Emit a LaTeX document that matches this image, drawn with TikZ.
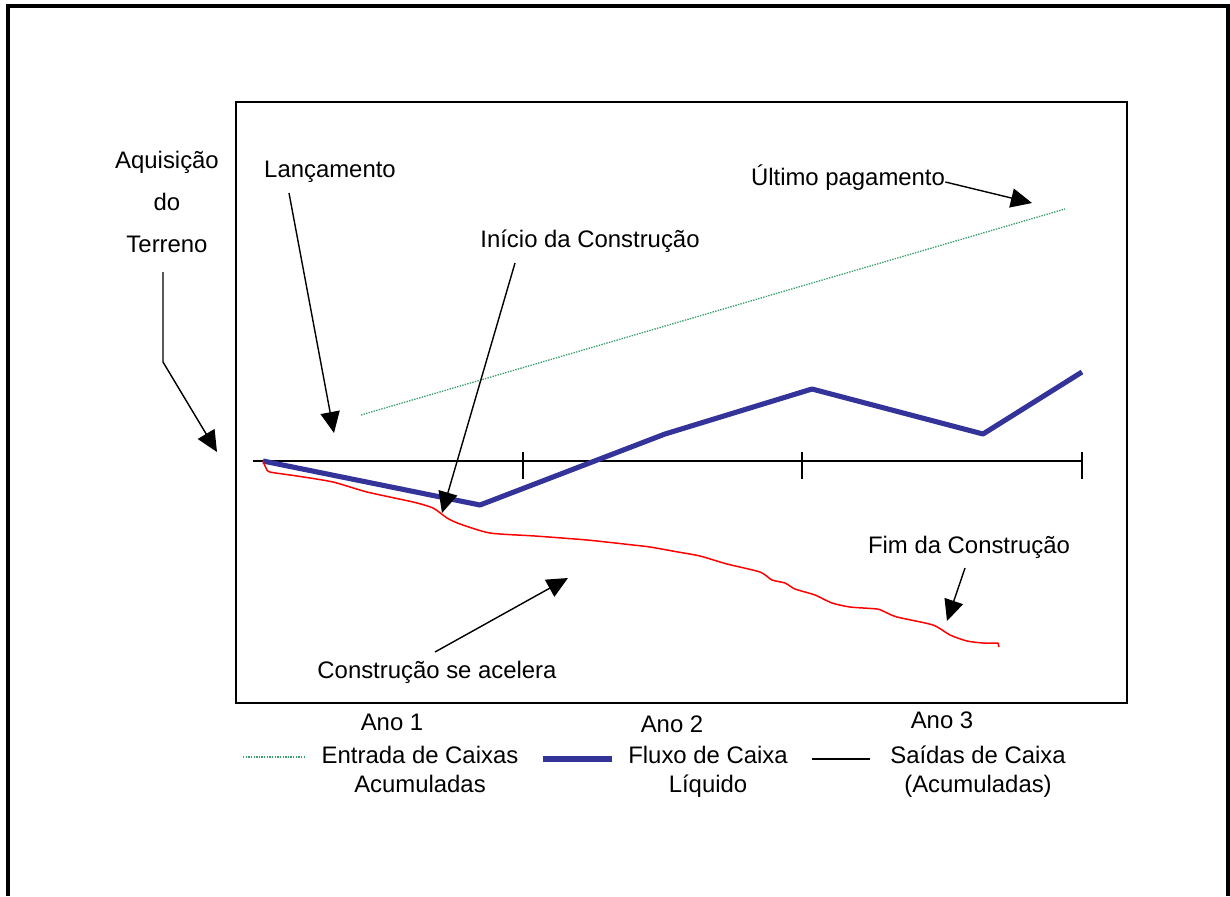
\documentclass[tikz,border=0pt]{standalone}
\usepackage{fontspec}
\setmainfont{Liberation Sans}
\usetikzlibrary{arrows.meta}

\definecolor{fluxo}{RGB}{51,51,153}
\definecolor{entrada}{RGB}{60,160,110}
\tikzset{
  txt/.style={inner sep=0pt, anchor=base, align=center, font=\fontsize{13.6}{16.4}\selectfont},
  pointer/.style={line width=0.8pt, -{Triangle[length=12pt,width=11pt]}},
  thin line/.style={line width=0.8pt},
}

\begin{document}
\begin{tikzpicture}[x=0.02cm, y=-0.02cm]
        \useasboundingbox (0,0) rectangle (1230,896);
        \draw[line width=2pt] (8,896) -- (8,6) -- (1228,6) -- (1228,896);
        \draw[thin line] (236,102) rectangle (1127,703);
        % axis and year ticks
        \draw[thin line] (253,461) -- (1082,461);
        \foreach \x in {523,802,1082}
            \draw[thin line] (\x,452) -- (\x,479);
        % now the curves
        \draw[entrada, line width=0.75pt, dash pattern=on 0.8pt off 0.7pt] (361,415) -- (1065,209);
        \draw[fluxo, line width=2.9pt, line join=round]
            (263,461) -- (480,505) -- (665,434) -- (812,389) -- (983,434) -- (1082,372);
        \draw[red, line width=0.85pt] plot[smooth, tension=0.4] coordinates {
            (263,461) (266,468) (270,472) (297,476) (333,482) (367,492) (413,502)
            (433,508) (447,518) (460,524) (490,533) (535,536) (587,540) (633,545)
            (650,547) (678,552) (700,556) (727,564) (760,572) (772,580) (785,583)
            (795,589) (815,595) (832,603) (850,607) (877,609) (885,612) (897,617)
            (933,625) (950,635) (967,641) (983,643) (998,643)} -- (999,647);
        % labels (multi-line ones sit on their last baseline)
        \node[txt, font=\fontsize{13.6}{23.8}\selectfont] (aquisicao) at (167,252) {Aquisição\\do\\Terreno};
        \node[txt] (lancamento) at (330,177) {Lançamento};
        \node[txt] (inicio) at (590,247) {Início da Construção};
        \node[txt] (ultimo) at (848,185) {Último pagamento};
        \node[txt] (fim) at (969,553) {Fim da Construção};
        \node[txt] (acelera) at (437,678) {Construção se acelera};
        % pointers
        \coordinate (aqA) at (163,272);
        \coordinate (aqB) at (163,362);
        \coordinate (aqT) at (217,452);
        \draw[pointer] (aqA) -- (aqB) -- (aqT);
        \coordinate (lanA) at (289,193);
        \coordinate (lanT) at (334,433);
        \draw[pointer] (lanA) -- (lanT);
        \coordinate (iniA) at (515,263);
        \coordinate (iniT) at (442,513);
        \draw[pointer] (iniA) -- (iniT);
        \coordinate (ultT) at (1032,203);
        \draw[pointer] (ultimo.base east) ++(0,-3) coordinate (ultA) (ultA) -- (ultT);
        \coordinate (fimA) at (965,568);
        \coordinate (fimT) at (947,621);
        \draw[pointer] (fimA) -- (fimT);
        \coordinate (aceA) at (435,652);
        \coordinate (aceT) at (568,578);
        \draw[pointer] (aceA) -- (aceT);
        % years and legend
        \node[txt] (ano1) at (392,730) {Ano 1};
        \node[txt] (ano2) at (672,732) {Ano 2};
        \node[txt] (ano3) at (942,728) {Ano 3};
        \node[txt] (legEntrada) at (420,792) {Entrada de Caixas\\Acumuladas};
        \node[txt] (legFluxo) at (708,792) {Fluxo de Caixa\\Líquido};
        \node[txt] (legSaidas) at (978,792) {Saídas de Caixa\\(Acumuladas)};
        \draw[entrada, line width=0.75pt, dash pattern=on 0.8pt off 0.7pt] (243,757) -- (306,757);
        \draw[fluxo, line width=2.9pt] (543,759) -- (612,759);
        \draw[thin line] (812,759) -- (870,759);
\end{tikzpicture}
\end{document}
